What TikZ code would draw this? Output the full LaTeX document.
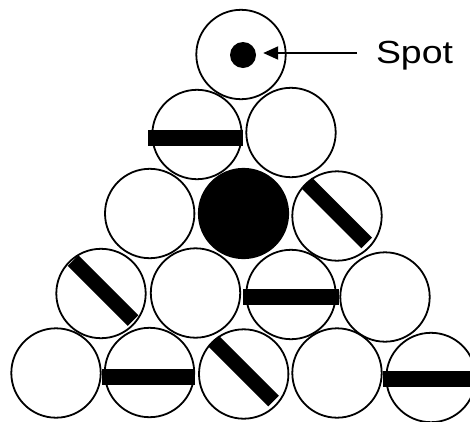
\documentclass[tikz,border=0pt]{standalone}
\usepackage{fontspec}
\setmainfont{Liberation Sans}
\usetikzlibrary{arrows.meta}
\begin{document}
\begin{tikzpicture}[x=1pt,y=-1pt,
  ball/.style={circle,draw=black,line width=1.8pt,minimum size=89.4pt,inner sep=0pt},
  cue/.style={ball,fill=black},
  bar/.style={line width=15.5pt,line cap=butt,draw=black},
  dbar/.style={line width=15pt,line cap=butt,draw=black}]
\useasboundingbox (0,0) rectangle (470,421);
\clip (0,0) rectangle (470,421);
% row 1
\node[ball] (A) at (241,54.5) {};
% row 2
\node[ball] (B1) at (197,134.5) {};
\node[ball] (B2) at (291,132.5) {};
% row 3
\node[ball] (C1) at (149.7,213.5) {};
\node[cue] (C2) at (243.5,213.5) {};
\node[ball] (C3) at (337,216) {};
% row 4
\node[ball] (D1) at (101,293.5) {};
\node[ball] (D2) at (195.5,293) {};
\node[ball] (D3) at (291,294.5) {};
\node[ball] (D4) at (385,297) {};
% row 5
\node[ball] (E1) at (56,373) {};
\node[ball] (E2) at (149.5,372.5) {};
\node[ball] (E3) at (243.7,374) {};
\node[ball] (E4) at (337,373) {};
\node[ball] (E5) at (431,377.5) {};
% bars
\draw[bar] (148,138) -- (243,138);
\draw[dbar] (306.7,183) -- (366.7,243);
\draw[dbar] (73,260.5) -- (133,320.5);
\draw[bar] (243,297) -- (339,297);
\draw[bar] (101.7,377) -- (195,377);
\draw[dbar] (213.5,341) -- (273.5,401);
\draw[bar] (383,379) -- (475,379);
% spot
\node[circle,fill=black,minimum size=26pt,inner sep=0pt] (dot) at (243,55) {};
\coordinate (tail) at (357,53);
\draw[line width=2pt,-{Triangle[length=15pt,width=13pt]},shorten >=7pt] (tail) -- (dot.east |- tail);
\node[anchor=base west,inner sep=0pt] (lbl) at (375.8,63) {\scalebox{1.17}[1]{\fontsize{32}{32}\selectfont Spot}};
\end{tikzpicture}
\end{document}
